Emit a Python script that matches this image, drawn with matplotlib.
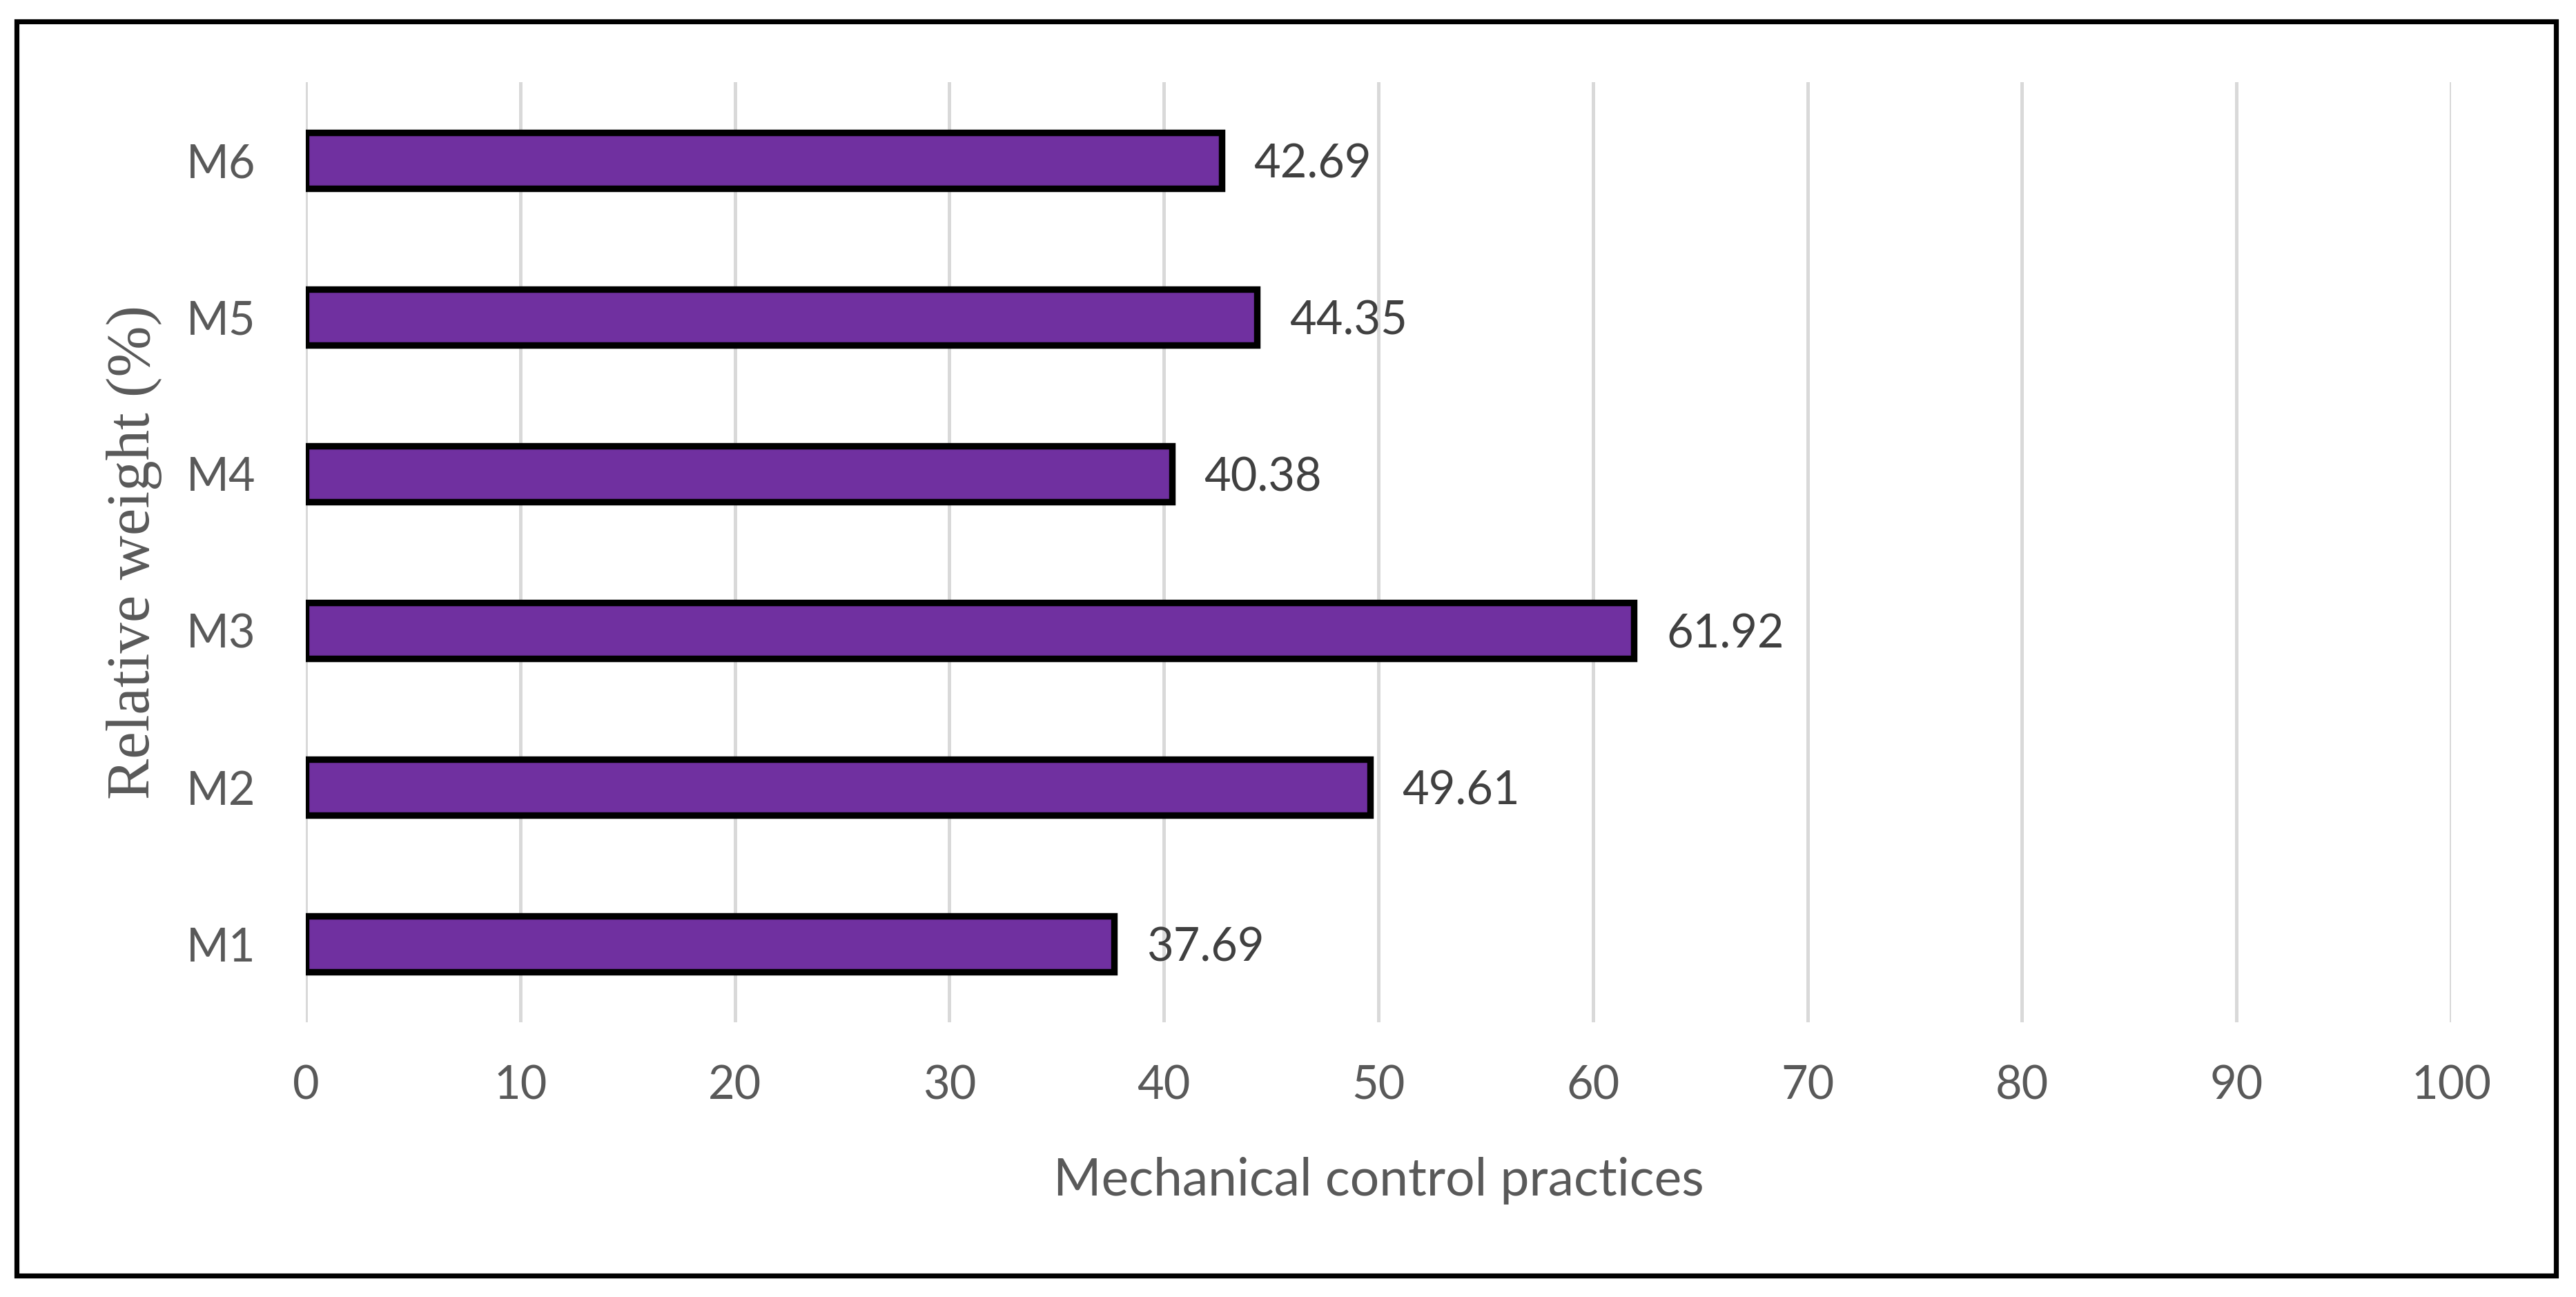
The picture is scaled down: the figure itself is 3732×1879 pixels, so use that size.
import matplotlib
matplotlib.use("Agg")
import matplotlib.pyplot as plt
from matplotlib.patches import Rectangle

categories = ["M1", "M2", "M3", "M4", "M5", "M6"]
values = [37.69, 49.61, 61.92, 40.38, 44.35, 42.69]
xticks = [0, 10, 20, 30, 40, 50, 60, 70, 80, 90, 100]

DPI = 200
fig = plt.figure(figsize=(3732 / DPI, 1879 / DPI), dpi=DPI)
fig.patch.set_facecolor("white")

ax = fig.add_axes([0.1187, 0.2118, 0.9515 - 0.1187, 0.9367 - 0.2118])

font = "Lato"
gray = "#595959"

ypos = list(range(len(categories)))
ax.barh(ypos, values, height=0.36, color="#7030A0", edgecolor="black",
        linewidth=3.4, zorder=3)

for y, v in zip(ypos, values):
    ax.text(v + 1.5, y, f"{v:.2f}", va="center_baseline", ha="left",
            fontsize=24, color="#404040", family=font)

ax.set_xlim(0, 100)
ax.set_ylim(-0.5, len(categories) - 0.5)
ax.set_xticks(xticks)
ax.set_xticklabels([str(t) for t in xticks], family=font, fontsize=24, color=gray)
ax.set_yticks(ypos)
ax.set_yticklabels(categories, family=font, fontsize=24, color=gray)
ax.tick_params(axis="both", length=0)
ax.tick_params(axis="x", pad=22)
ax.tick_params(axis="y", pad=26)

ax.xaxis.grid(True, color="#D9D9D9", linewidth=1.8, zorder=0)
ax.yaxis.grid(False)
ax.set_axisbelow(True)
for s in ax.spines.values():
    s.set_visible(False)

ax.set_xlabel("Mechanical control practices", family=font, fontsize=27,
              color=gray, labelpad=26)
fig.text(0.052, 0.574, "Relative weight (%)", rotation=90, ha="center",
         va="center", family="Liberation Serif", fontsize=32, color=gray)

fig.patches.append(Rectangle((0.0064, 0.0165), 0.9923 - 0.0064, 0.9835 - 0.0165,
                             transform=fig.transFigure, fill=False,
                             edgecolor="black", linewidth=2.6))

fig.savefig("out.png", dpi=DPI, facecolor="white")
